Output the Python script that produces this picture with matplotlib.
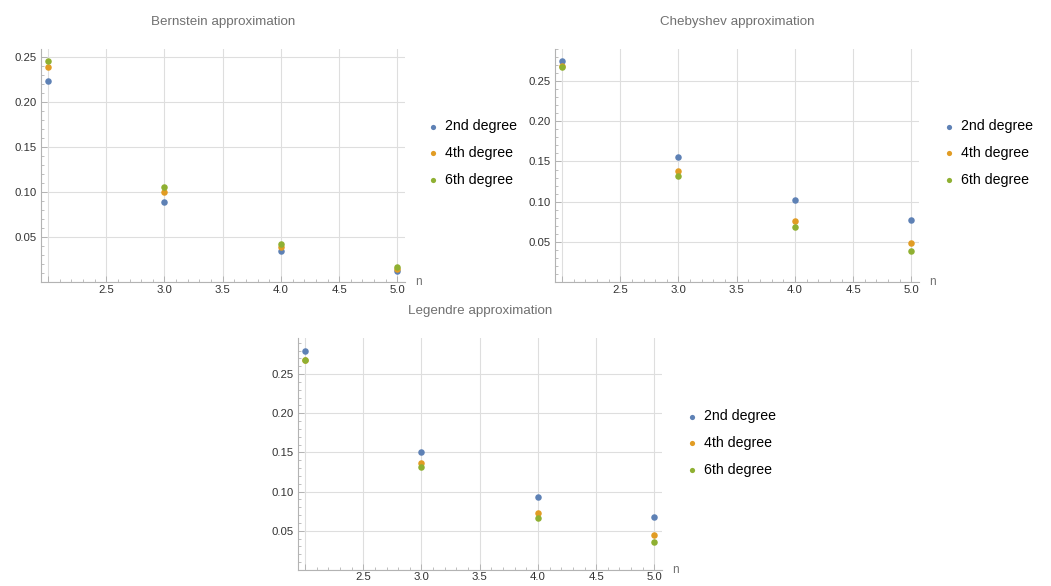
import numpy as np
import matplotlib
matplotlib.use("Agg")
import matplotlib.pyplot as plt
from matplotlib.ticker import MultipleLocator, FuncFormatter

plt.rcParams['font.family'] = ['Liberation Sans', 'DejaVu Sans']

# Data
n_values = [2, 3, 4, 5]
degree_labels = ['2nd degree', '4th degree', '6th degree']

bernstein_2nd = [0.223, 0.089, 0.034, 0.0125]
bernstein_4th = [0.239, 0.100, 0.039, 0.0148]
bernstein_6th = [0.246, 0.106, 0.042, 0.0165]

chebyshev_2nd = [0.275, 0.155, 0.102, 0.077]
chebyshev_4th = [0.269, 0.138, 0.076, 0.048]
chebyshev_6th = [0.267, 0.132, 0.068, 0.038]

legendre_2nd = [0.280, 0.150, 0.0935, 0.0676]
legendre_4th = [0.268, 0.137, 0.073, 0.0448]
legendre_6th = [0.2678, 0.132, 0.066, 0.0363]

colors = ['#5E81B5', '#E19C24', '#8FB032']

W, H = 1051, 586
fig = plt.figure(figsize=(W / 100, H / 100), dpi=100)


def px_axes(left, right, top, bottom):
    # pixel box -> figure fraction
    return [left / W, (H - bottom) / H, (right - left) / W, (bottom - top) / H]


def make_panel(box, title, series, ytop, legend_xy):
    ax = fig.add_axes(px_axes(*box))
    for vals, c, lab in zip(series, colors, degree_labels):
        ax.scatter(n_values, vals, s=22, color=c, label=lab, zorder=3, linewidths=0)
    ax.set_xlim(1.94, 5.065)
    ax.set_ylim(0, ytop)

    ax.xaxis.set_major_locator(MultipleLocator(0.5))
    ax.xaxis.set_minor_locator(MultipleLocator(0.1))
    ax.yaxis.set_major_locator(MultipleLocator(0.05))
    ax.yaxis.set_minor_locator(MultipleLocator(0.01))
    ax.xaxis.set_major_formatter(FuncFormatter(lambda v, p: '' if abs(v - 2) < 1e-6 else f'{v:.1f}'))
    ax.yaxis.set_major_formatter(FuncFormatter(lambda v, p: '' if abs(v) < 1e-6 else f'{v:.2f}'))

    ax.grid(True, which='major', color='#dedede', linewidth=0.8, zorder=0)
    for s in ['top', 'right']:
        ax.spines[s].set_visible(False)
    for s in ['left', 'bottom']:
        ax.spines[s].set_color('#b3b3b3')
        ax.spines[s].set_linewidth(0.8)
    ax.tick_params(which='major', direction='in', length=4, width=0.7, color='#b3b3b3',
                   labelsize=8.2, labelcolor='#333333')
    ax.tick_params(which='minor', direction='in', length=2.5, width=0.6, color='#b3b3b3')
    ax.tick_params(axis='x', pad=1.8)
    ax.tick_params(axis='y', pad=3)

    ax.set_title(title, fontsize=9.6, color='#707070', pad=17)
    ax.annotate('n', xy=(1, 0), xycoords='axes fraction', xytext=(7, 0),
                textcoords='offset points', fontsize=8.5, color='#707070', va='center')

    ax.legend(loc='center left', bbox_to_anchor=(legend_xy[0] / W, 1 - legend_xy[1] / H),
              bbox_transform=fig.transFigure, frameon=False, fontsize=10.2,
              handletextpad=0.3, handlelength=1.2, labelspacing=0.9, markerscale=0.8,
              borderaxespad=0, borderpad=0)
    return ax


make_panel((41, 405, 49, 282), 'Bernstein approximation',
           [bernstein_2nd, bernstein_4th, bernstein_6th], 0.259, (424, 153))
make_panel((555, 919, 49, 282), 'Chebyshev approximation',
           [chebyshev_2nd, chebyshev_4th, chebyshev_6th], 0.29, (940, 153))
make_panel((298, 662, 338, 570), 'Legendre approximation',
           [legendre_2nd, legendre_4th, legendre_6th], 0.296, (683, 443))

fig.savefig('out.png', dpi=100)
